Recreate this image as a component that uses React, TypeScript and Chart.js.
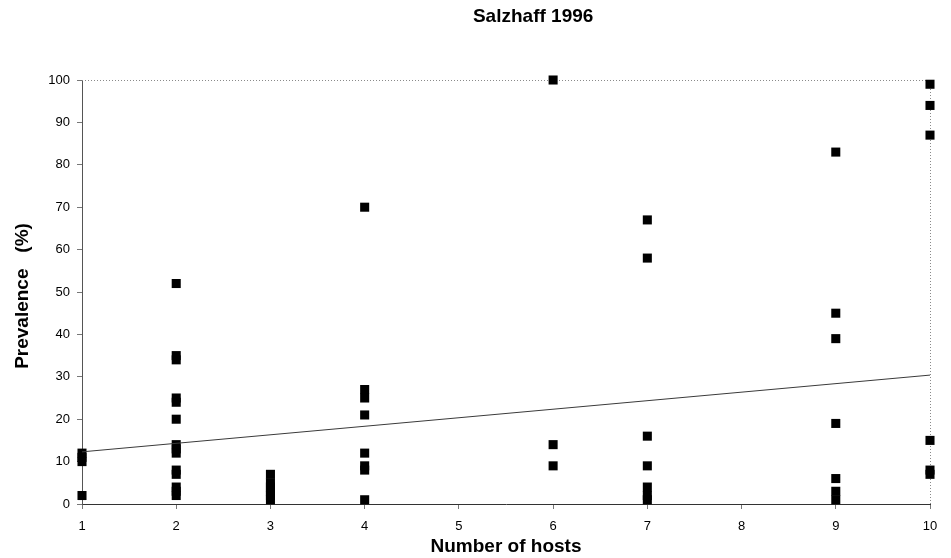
import React, { useEffect, useRef } from "react";
import { Chart, registerables } from "chart.js";

Chart.register(...registerables);

// Prevalence (%) of each parasite species, grouped by the number of host species it uses
const hostCounts = [1, 2, 3, 4, 6, 7, 9, 10];
const prevalence1 = [12, 11, 10, 2];
const prevalence2 = [52, 35, 34, 25, 24, 20, 14, 13, 12, 8, 7, 4, 3, 2];
const prevalence3 = [7, 5, 4, 3, 2, 1];
const prevalence4 = [70, 27, 25, 21, 12, 9, 8, 1];
const prevalence6 = [100, 14, 9];
const prevalence7 = [67, 58, 16, 9, 4, 2, 1];
const prevalence9 = [83, 45, 39, 19, 6, 3, 1];
const prevalence10 = [99, 94, 87, 15, 8, 7];

// Linear trend line end points
const trendX = [1, 10];
const trendY = [12.3, 30.4];

const yTicks = [0, 10, 20, 30, 40, 50, 60, 70, 80, 90, 100];
const xTicks = [1, 2, 3, 4, 5, 6, 7, 8, 9, 10];

const titleText = "Salzhaff 1996";
const xTitle = "Number of hosts";
const yTitle = "Prevalence   (%)";

const FONT = "'Liberation Sans', Arial, Helvetica, sans-serif";

const groups = [
  prevalence1,
  prevalence2,
  prevalence3,
  prevalence4,
  prevalence6,
  prevalence7,
  prevalence9,
  prevalence10,
];

const framePlugin = {
  id: "framePlugin",
  beforeDatasetsDraw(chart: any) {
    const { ctx, chartArea } = chart;
    const { left, right, top, bottom } = chartArea;
    ctx.save();
    // dotted frame on the top and right
    ctx.strokeStyle = "#8a8a8a";
    ctx.lineWidth = 1;
    ctx.setLineDash([1, 2]);
    ctx.beginPath();
    ctx.moveTo(left, top + 0.5);
    ctx.lineTo(right, top + 0.5);
    ctx.moveTo(right + 0.5, top);
    ctx.lineTo(right + 0.5, bottom);
    ctx.stroke();
    ctx.restore();
  },
  afterDraw(chart: any) {
    const { ctx, chartArea } = chart;
    const { left, right, top, bottom } = chartArea;
    ctx.save();
    ctx.fillStyle = "#000";
    ctx.textAlign = "center";
    ctx.textBaseline = "middle";
    ctx.font = `bold 19px ${FONT}`;
    ctx.fillText(titleText, left + (right - left) * 0.532, 17);
    ctx.fillText(xTitle, (left + right) / 2, bottom + 43);
    ctx.translate(23, (top + bottom) / 2 + 4);
    ctx.rotate(-Math.PI / 2);
    ctx.fillText(yTitle, 0, 0);
    ctx.restore();
  },
};

export default function App() {
  const ref = useRef<HTMLCanvasElement | null>(null);

  useEffect(() => {
    document.body.style.margin = "0";
    const canvas = ref.current;
    if (!canvas) return;

    const points: { x: number; y: number }[] = [];
    hostCounts.forEach((h, i) => {
      groups[i].forEach((v) => points.push({ x: h, y: v }));
    });

    const chart = new Chart(canvas, {
      type: "scatter",
      data: {
        datasets: [
          {
            type: "line",
            data: trendX.map((x, i) => ({ x, y: trendY[i] })),
            borderColor: "#3a3a3a",
            borderWidth: 1,
            pointRadius: 0,
            fill: false,
          } as any,
          {
            data: points,
            pointStyle: "rect",
            pointRadius: 6.4,
            pointHoverRadius: 6.4,
            backgroundColor: "#000",
            borderColor: "#000",
            borderWidth: 0,
          },
        ],
      },
      options: {
        animation: false,
        responsive: false,
        clip: false as any,
        layout: { padding: { top: 80, right: 21, left: 0, bottom: 0 } },
        plugins: {
          legend: { display: false },
          tooltip: { enabled: false },
          title: { display: false },
        },
        scales: {
          x: {
            type: "linear",
            min: 1,
            max: 10,
            afterBuildTicks: (s: any) => {
              s.ticks = xTicks.map((v) => ({ value: v }));
            },
            afterFit: (s: any) => {
              s.height = 54;
            },
            ticks: {
              color: "#000",
              font: { family: FONT, size: 13 },
              padding: 10,
              maxRotation: 0,
            },
            grid: {
              drawOnChartArea: false,
              drawTicks: true,
              tickLength: 5,
              color: "#777",
            },
            border: { color: "#333", width: 1 },
          },
          y: {
            min: 0,
            max: 100,
            afterBuildTicks: (s: any) => {
              s.ticks = yTicks.map((v) => ({ value: v }));
            },
            afterFit: (s: any) => {
              s.width = 82;
            },
            ticks: {
              color: "#000",
              font: { family: FONT, size: 13 },
              padding: 7,
            },
            grid: {
              drawOnChartArea: false,
              drawTicks: true,
              tickLength: 5,
              color: "#777",
            },
            border: { color: "#555", width: 1 },
          },
        },
      },
      plugins: [framePlugin],
    });

    return () => chart.destroy();
  }, []);

  return (
    <div style={{ width: 951, height: 558, background: "#fff" }}>
      <canvas ref={ref} width={951} height={558} />
    </div>
  );
}
